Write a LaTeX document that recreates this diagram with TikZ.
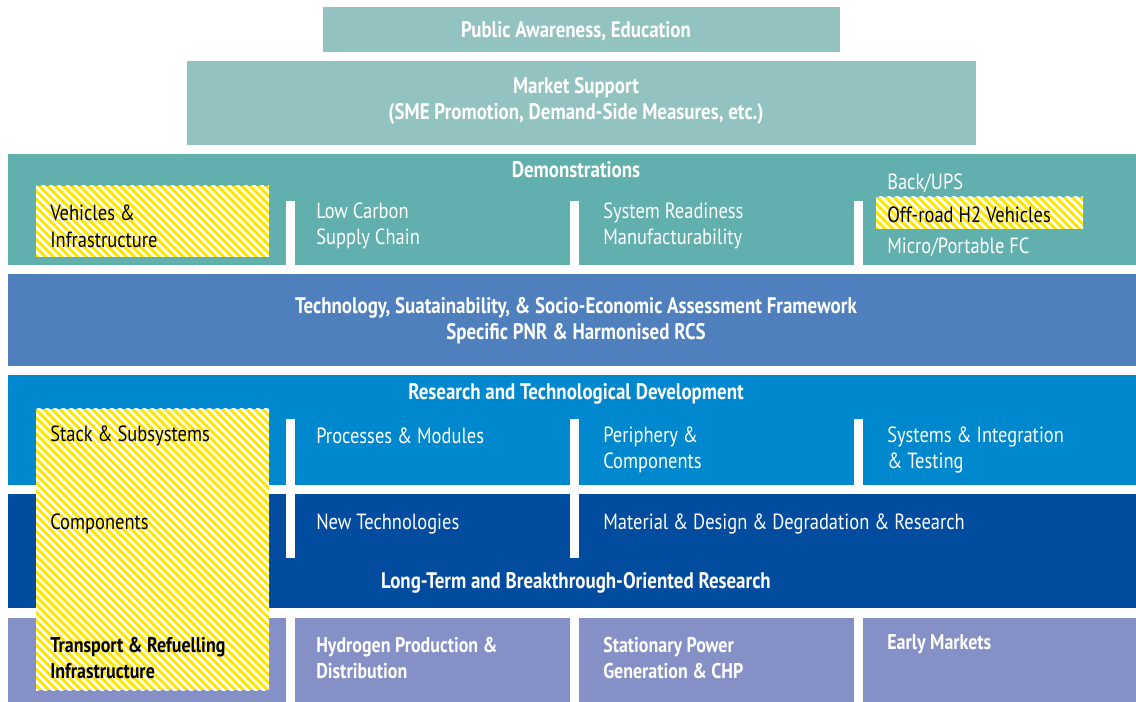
\documentclass[tikz,border=0pt]{standalone}
\usepackage{fontspec}
\setmainfont{PT Sans}[FakeStretch=0.84]
\usetikzlibrary{patterns.meta}

\definecolor{tealLight}{RGB}{146,195,193}
\definecolor{tealDemo}{RGB}{98,176,174}
\definecolor{blueTech}{RGB}{79,128,189}
\definecolor{blueRtd}{RGB}{0,136,207}
\definecolor{blueLong}{RGB}{1,76,159}
\definecolor{lilacApp}{RGB}{133,145,198}
\definecolor{hatchYellow}{RGB}{255,230,0}

\tikzset{
  head/.style={text=white,font=\bfseries\fontsize{16.9}{19.5}\selectfont,align=center,inner sep=0pt},
  item/.style={text=white,font=\fontsize{16.5}{20}\selectfont,align=left,anchor=west,inner sep=0pt},
  itemdark/.style={item,text=black},
  itembold/.style={item,font=\bfseries\fontsize{16}{20}\selectfont},
  divider/.style={fill=white},
}

\begin{document}
\begin{tikzpicture}[x=0.75pt,y=0.75pt,yscale=-1]
\useasboundingbox (0,0) rectangle (1136,702);

%Shape: Rectangles (bands)
\fill[tealLight] (323,7) rectangle (840,52) ;
\fill[tealLight] (187,61) rectangle (976,145) ;
\fill[tealDemo] (8,154) rectangle (1136,265) ;
\fill[blueTech] (8,274) rectangle (1136,366) ;
\fill[blueRtd] (8,375) rectangle (1136,485) ;
\fill[blueLong] (8,494) rectangle (1136,608) ;
\fill[lilacApp] (8,618) rectangle (1136,702) ;

%Shape: Dividers
\foreach \dx in {286,570,854} {
  \fill[divider] (\dx,201) rectangle (\dx+9,265) ;
  \fill[divider] (\dx,419) rectangle (\dx+9,485) ;
  \fill[divider] (\dx,618) rectangle (\dx+9,702) ;
}
\fill[divider] (286,494) rectangle (295,558) ;
\fill[divider] (570,494) rectangle (579,558) ;

%Shape: Hatched boxes
\foreach \bx/\by/\ex/\ey in {36/186/269/257, 876/197/1083/229, 36/409/269/690} {
  \fill[hatchYellow] (\bx,\by) rectangle (\ex,\ey) ;
  \fill[pattern={Lines[angle=-45,distance=4.3pt,line width=1.9pt]},pattern color=white] (\bx,\by) rectangle (\ex,\ey) ;
}

% Text Node
\node[head] (pub) at (576,31) {Public Awareness, Education};
% Text Node
\node[head] (market) at (576,101) {Market Support\\(SME Promotion, Demand-Side Measures, etc.)};
% Text Node
\node[head] (demo) at (576,170) {Demonstrations};
\node[itemdark] (vehicles) at (50,226) {Vehicles \&\\Infrastructure};
\node[item] (lowcarbon) at (316,226) {Low Carbon\\Supply Chain};
\node[item] (readiness) at (603,226) {System Readiness\\Manufacturability};
\node[item] (backups) at (887,183) {Back/UPS};
\node[itemdark] (offroad) at (887,215) {Off-road H2 Vehicles};
\node[item] (micro) at (887,247) {Micro/Portable FC};
% Text Node
\node[head] (tech) at (576,321) {Technology, Suatainability, \& Socio-Economic Assessment Framework\\Specific PNR \& Harmonised RCS};
% Text Node
\node[head] (rtd) at (576,394) {Research and Technological Development};
\node[itemdark] (stack) at (50,436) {Stack \& Subsystems};
\node[item] (processes) at (316,436) {Processes \& Modules};
\node[item] (periphery) at (603,450) {Periphery \&\\Components};
\node[item] (systems) at (887,450) {Systems \& Integration\\\& Testing};
% Text Node
\node[itemdark] (components) at (50,524) {Components};
\node[item] (newtech) at (316,524) {New Technologies};
\node[item] (material) at (603,524) {Material \& Design \& Degradation \& Research};
\node[head] (longterm) at (576,583) {Long-Term and Breakthrough-Oriented Research};
% Text Node
\node[itembold,text=black] (transport) at (50,658) {Transport \& Refuelling\\Infrastructure};
\node[itembold] (hydrogen) at (316,658) {Hydrogen Production \&\\Distribution};
\node[itembold] (stationary) at (603,658) {Stationary Power\\Generation \& CHP};
\node[itembold] (early) at (887,644) {Early Markets};

\end{tikzpicture}
\end{document}
